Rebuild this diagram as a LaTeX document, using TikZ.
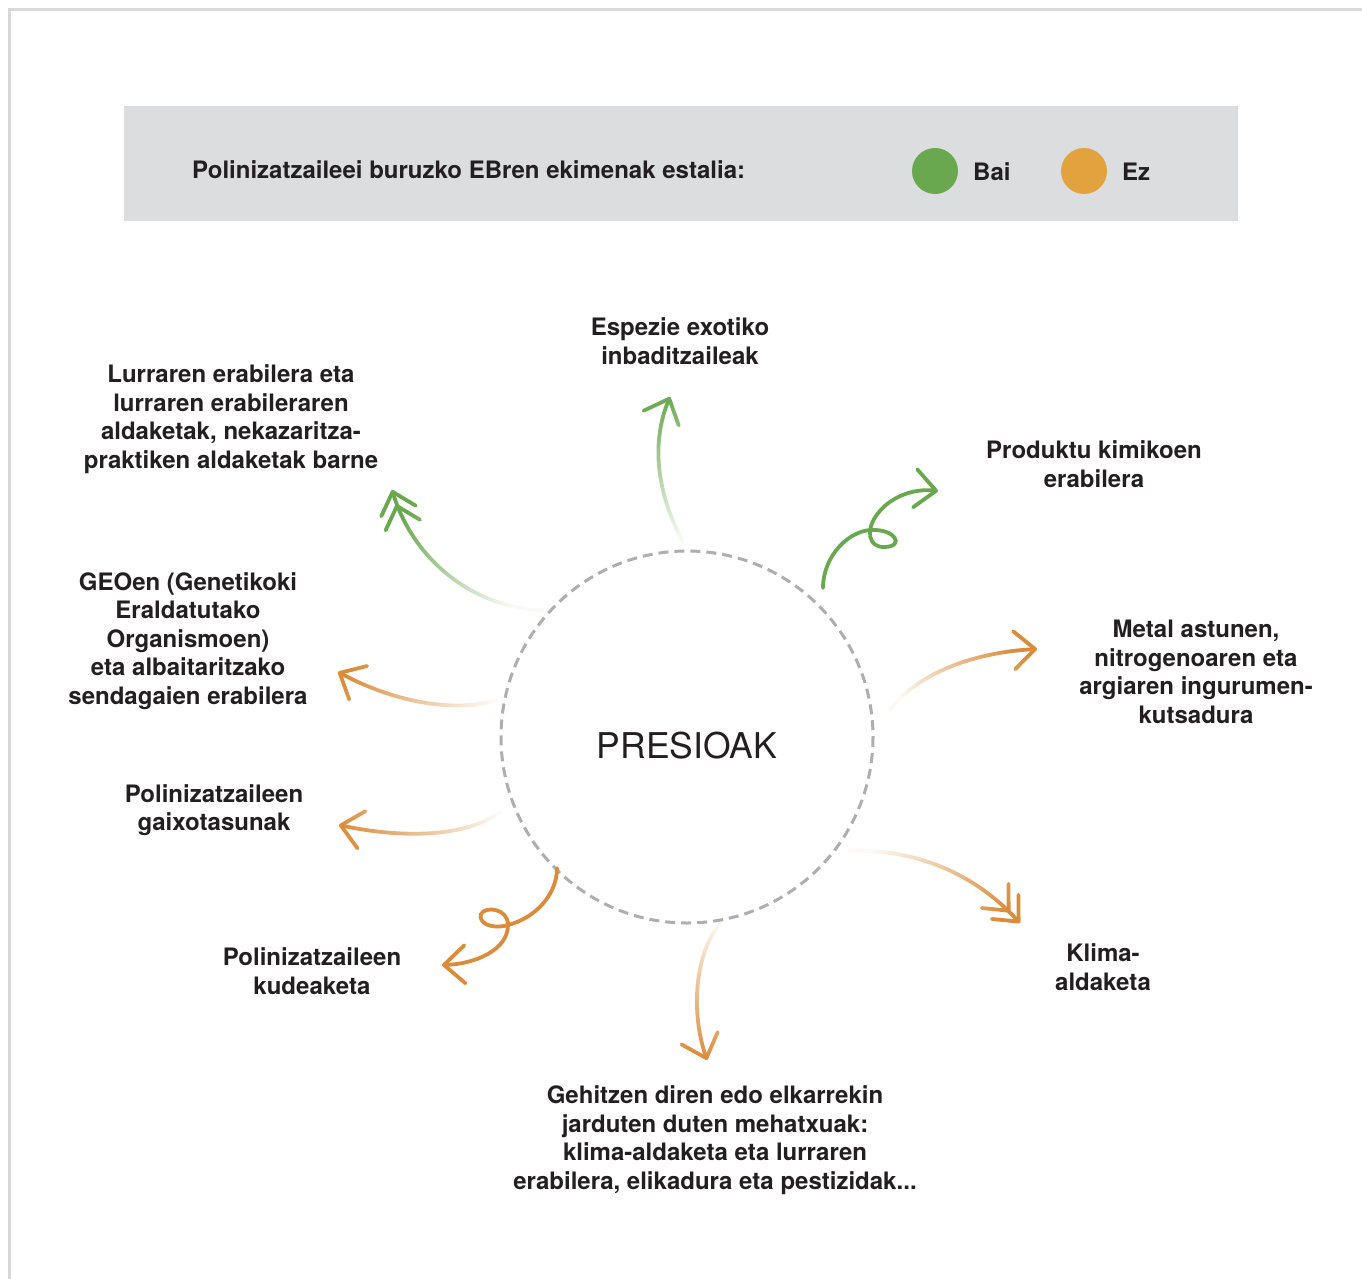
\documentclass[tikz,border=0pt]{standalone}
\usepackage{fontspec}
\setmainfont{TeX Gyre Heros}
\usepackage{tikz}
\usetikzlibrary{arrows.meta,fadings}

\definecolor{baigreen}{HTML}{6AA84F}
\definecolor{ezorange}{HTML}{E2A33E}
\definecolor{arroworange}{HTML}{DA8C3A}
\definecolor{boxgray}{HTML}{DCDDDF}
\definecolor{framegray}{HTML}{D9D9D9}
\definecolor{ringgray}{HTML}{AEAEAE}
\definecolor{textdark}{HTML}{231F20}

\tikzfading[name=tail_fade, left color=transparent!95, middle color=transparent!15, right color=transparent!0]

\begin{document}
\begin{tikzpicture}[x=1pt, y=-1pt,
    label_node/.style={align=center, text=textdark, inner sep=0,
        font=\fontsize{24}{28.5}\selectfont\bfseries},
    ring/.style={draw=ringgray, line width=3pt, dash pattern=on 10pt off 6pt},
    shaft/.style={line width=3.8pt, line cap=round,
        -{Straight Barb[round, length=21pt, width=38pt]}},
    double_shaft/.style={line width=3.8pt, line cap=round,
        -{Straight Barb[round, length=20pt, width=36pt, sep=-9pt]Straight Barb[round, length=20pt, width=36pt]}}]

    \useasboundingbox (0,0) rectangle (1362,1279);
    \draw[line width=3pt, framegray] (9,1279) -- (9,10) -- (1362,10);

    % legend
    \fill[boxgray] (124,106) rectangle (1238,221);
    \node[label_node, anchor=west] (title) at (192,170) {Polinizatzaileei buruzko EBren ekimenak estalia:};
    \fill[baigreen] (935,171) circle (23);
    \fill[ezorange] (1084,171) circle (23);
    \node[label_node, anchor=west] (bai) at (973,172) {Bai};
    \node[label_node, anchor=west] (ez) at (1122,172) {Ez};

    % centre
    \draw[ring] (687,737) circle (186);
    \node[text=textdark, font=\fontsize{35.5}{40}\selectfont] (0) at (687,746) {PRESIOAK};

    \node[label_node] (1) at (680,341) {Espezie exotiko\\inbaditzaileak};
    \node[label_node] (2) at (231,419) {Lurraren erabilera eta\\lurraren erabileraren\\aldaketak, nekazaritza-\\praktiken aldaketak barne};
    \node[label_node] (3) at (1094,464) {Produktu kimikoen\\erabilera};
    \node[label_node] (4) at (188,641) {GEOen (Genetikoki\\Eraldatutako\\Organismoen)\\eta albaitaritzako\\sendagaien erabilera};
    \node[label_node] (5) at (1196,672) {Metal astunen,\\nitrogenoaren eta\\argiaren ingurumen-\\kutsadura};
    \node[label_node] (6) at (214,810) {Polinizatzaileen\\gaixotasunak};
    \node[label_node] (7) at (312,971) {Polinizatzaileen\\kudeaketa};
    \node[label_node] (8) at (1103,967) {Klima-\\aldaketa};
    \node[label_node] (9) at (715,1140) {Gehitzen diren edo elkarrekin\\jarduten duten mehatxuak:\\klima-aldaketa eta lurraren\\erabilera, elikadura eta pestizidak...};

    \coordinate (s1) at (683,542);  \coordinate (t1) at (670,397);
    \coordinate (s2) at (545,610);  \coordinate (t2) at (392,490);
    \coordinate (s3) at (823,588);  \coordinate (t3) at (938,491);
    \coordinate (s4) at (890,710);  \coordinate (t4) at (1037,649);
    \coordinate (s5) at (848,851);  \coordinate (t5) at (1020,923);
    \coordinate (s6) at (723,920);  \coordinate (t6) at (707,1060);
    \coordinate (s7) at (557,868);  \coordinate (t7) at (442,965);
    \coordinate (s8) at (497,700);  \coordinate (t8) at (338,672);
    \coordinate (s9) at (500,812);  \coordinate (t9) at (339,825);

    % green: covered
    \draw[shaft, baigreen, path fading=tail_fade, fading angle=95]
        (s1) .. controls (655,490) and (652,440) .. (t1);
    \draw[double_shaft, baigreen, path fading=tail_fade, fading angle=142]
        (s2) .. controls (480,610) and (415,565) .. (t2);
    \draw[shaft, baigreen]
        (s3) .. controls (823,555) and (850,530) .. (872,530)
             .. controls (895,529) and (905,546) .. (885,547)
             .. controls (868,548) and (866,530) .. (876,516)
             .. controls (888,498) and (912,488) .. (t3);

    % orange: not covered
    \draw[shaft, arroworange, path fading=tail_fade, fading angle=22]
        (s4) .. controls (920,670) and (980,652) .. (t4);
    \draw[double_shaft, arroworange, path fading=tail_fade, fading angle=-22]
        (s5) .. controls (920,848) and (978,877) .. (t5);
    \draw[shaft, arroworange, path fading=tail_fade, fading angle=-96]
        (s6) .. controls (695,950) and (690,1010) .. (t6);
    \draw[shaft, arroworange]
        (s7) .. controls (557,895) and (535,918) .. (508,925)
             .. controls (490,930) and (478,922) .. (481,914)
             .. controls (485,906) and (508,908) .. (508,925)
             .. controls (508,950) and (475,964) .. (t7);
    \draw[shaft, arroworange, path fading=tail_fade, fading angle=170]
        (s8) .. controls (460,712) and (400,705) .. (t8);
    \draw[shaft, arroworange, path fading=tail_fade, fading angle=185]
        (s9) .. controls (470,835) and (410,840) .. (t9);

\end{tikzpicture}
\end{document}
